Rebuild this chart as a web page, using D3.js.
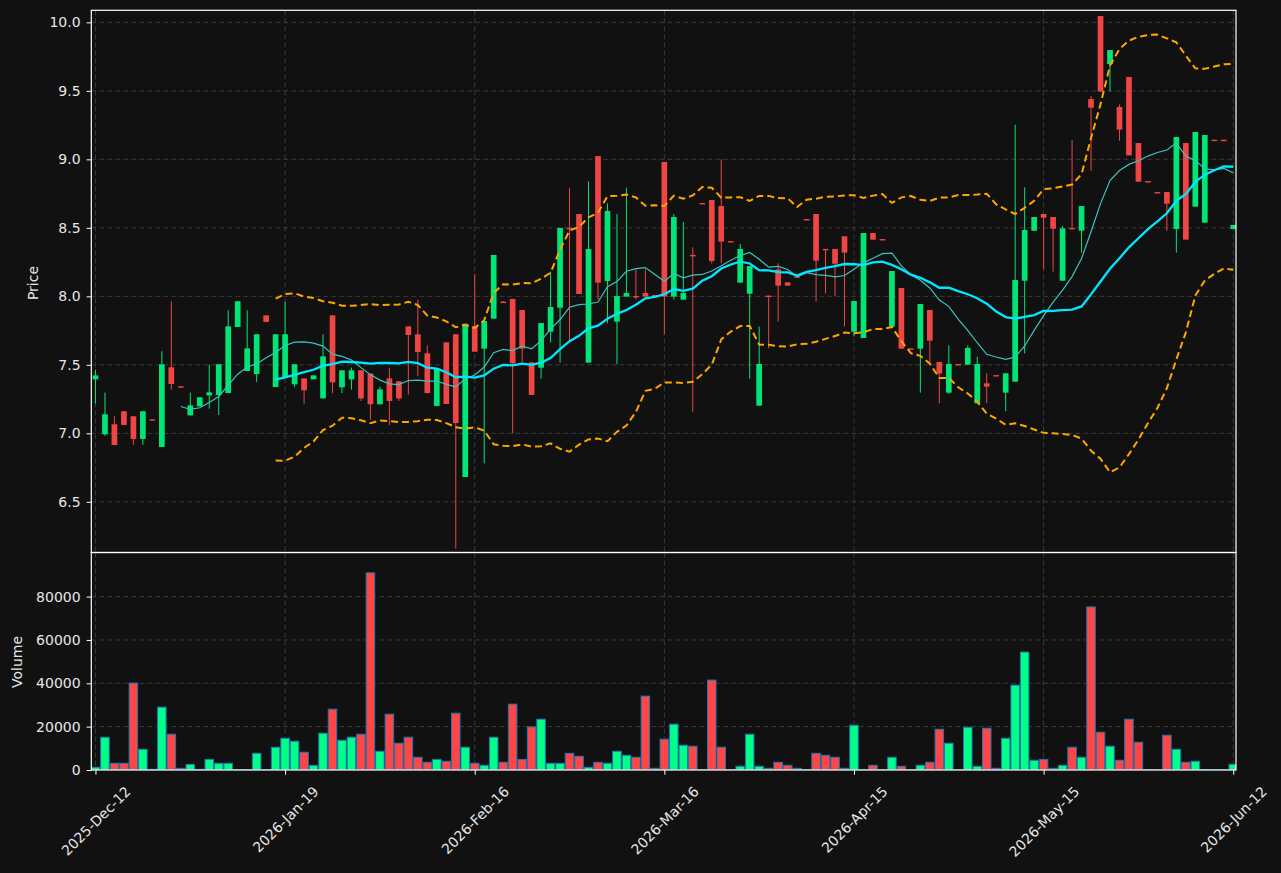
<!DOCTYPE html>
<html><head><meta charset="utf-8">
<script src="https://cdn.jsdelivr.net/npm/d3@7"></script>
<style>html,body{margin:0;padding:0;background:#111111;}svg{display:block;}</style>
</head><body>
<svg id="chart" width="1281" height="873"></svg>
<script>
// ---------- data ----------
const tickIndex  = [0, 20, 40, 60, 80, 100, 120];
const tickLabels = ["2025-Dec-12","2026-Jan-19","2026-Feb-16","2026-Mar-16","2026-Apr-15","2026-May-15","2026-Jun-12"];

const opens = [7.394,6.993,7.066,7.161,7.124,6.959,7.102,6.900,7.482,7.343,
  7.131,7.197,7.277,7.280,7.294,7.776,7.455,7.433,7.861,7.338,
  7.406,7.358,7.401,7.394,7.255,7.861,7.336,7.394,7.460,7.436,
  7.212,7.401,7.380,7.781,7.723,7.584,7.200,7.664,7.723,6.681,
  7.783,7.618,7.837,7.961,7.981,7.900,7.518,7.479,7.742,7.917,
  8.500,8.601,7.516,9.024,8.112,7.815,7.998,8.002,8.024,8.010,
  8.981,7.998,7.976,8.302,8.681,8.703,8.659,8.403,8.100,8.019,
  7.202,8.005,8.197,8.102,8.146,8.564,8.601,8.346,8.346,8.438,
  7.742,7.696,8.462,8.418,7.779,8.061,7.620,7.618,7.900,7.521,
  7.297,7.506,7.501,7.219,7.365,7.425,7.297,7.377,8.114,8.479,
  8.601,8.579,8.114,8.499,8.479,9.440,10.046,9.696,9.382,9.601,
  9.119,8.841,8.761,8.762,8.491,9.119,8.655,8.538,9.143,9.143,
  8.491];
const highs = [7.465,7.297,7.124,7.161,7.128,7.161,7.102,7.599,7.964,7.343,
  7.297,7.263,7.501,7.504,7.898,7.964,7.898,7.723,7.861,7.723,
  7.962,7.504,7.401,7.423,7.723,7.861,7.460,7.479,7.460,7.436,
  7.341,7.479,7.380,7.781,7.976,7.642,7.472,7.664,7.723,7.800,
  8.161,7.820,8.302,7.966,7.981,7.900,7.518,7.805,8.180,8.499,
  8.793,8.601,8.839,9.024,8.679,8.601,8.793,8.197,8.197,8.010,
  8.981,8.601,8.543,8.358,8.681,8.703,9.000,8.403,8.382,8.221,
  7.779,8.005,8.241,8.102,8.146,8.564,8.601,8.346,8.346,8.438,
  7.966,8.462,8.462,8.418,8.185,8.061,7.620,7.944,7.900,7.521,
  7.642,7.506,7.642,7.560,7.438,7.425,7.438,9.253,8.796,8.579,
  8.601,8.579,8.513,9.141,8.659,9.462,10.046,9.798,9.401,9.601,
  9.119,8.841,8.761,8.762,9.163,9.119,9.200,9.178,9.143,9.143,
  8.521];
const lows = [7.217,6.981,6.912,7.061,6.917,6.917,7.098,6.900,7.319,7.339,
  7.131,7.197,7.180,7.134,7.294,7.776,7.455,7.375,7.813,7.338,
  7.406,7.338,7.217,7.394,7.255,7.294,7.294,7.319,7.236,7.100,
  7.212,7.061,7.236,7.282,7.418,7.294,7.200,7.214,6.158,6.681,
  7.596,6.781,7.837,7.954,7.000,7.516,7.280,7.399,7.664,7.516,
  7.681,8.017,7.516,7.978,7.803,7.504,7.998,7.978,7.998,8.000,
  7.725,7.978,7.976,7.158,8.676,8.241,8.241,8.399,8.100,7.399,
  7.202,7.620,7.815,8.078,8.142,8.560,7.961,8.022,8.002,7.779,
  7.706,7.696,8.414,8.414,7.779,7.618,7.616,7.297,7.511,7.219,
  7.287,7.502,7.501,7.219,7.219,7.421,7.161,7.377,7.584,8.479,
  8.197,8.180,8.114,8.494,8.319,8.917,9.494,9.494,9.136,9.029,
  8.837,8.837,8.757,8.479,8.319,8.414,8.655,8.538,9.139,9.139,
  8.491];
const closes = [7.423,7.139,6.915,7.061,6.959,7.161,7.098,7.504,7.360,7.341,
  7.204,7.263,7.299,7.504,7.781,7.964,7.620,7.723,7.813,7.723,
  7.723,7.504,7.314,7.423,7.562,7.372,7.460,7.460,7.255,7.212,
  7.321,7.236,7.255,7.718,7.594,7.294,7.472,7.214,7.075,7.800,
  7.596,7.820,8.302,7.954,7.511,7.618,7.280,7.805,7.922,8.499,
  8.490,8.017,8.346,8.100,8.623,8.002,8.024,7.998,7.998,8.000,
  7.998,8.579,8.024,8.297,8.676,8.258,8.399,8.399,8.346,8.221,
  7.506,8.000,8.078,8.078,8.142,8.560,8.260,8.341,8.238,8.319,
  7.966,8.462,8.414,8.414,8.185,7.618,7.616,7.944,7.676,7.436,
  7.506,7.502,7.623,7.506,7.341,7.421,7.438,8.119,8.484,8.579,
  8.574,8.494,8.496,8.494,8.659,9.377,9.494,9.798,9.217,9.029,
  8.837,8.837,8.757,8.676,9.163,8.414,9.200,9.178,9.139,9.139,
  8.521];
const volumes = [1250,15100,3100,3100,40100,9570,300,29000,16500,780,
  2600,300,4900,3100,3100,200,200,7700,200,10500,
  14650,13270,8200,2170,16970,28070,13730,15120,16500,90960,
  8650,25760,12350,15120,5870,3560,4900,4020,26200,10500,
  3100,2170,15100,3560,30380,4900,19880,23440,3100,3100,
  7700,6330,1250,3560,3100,8650,6800,5870,34080,780,
  14200,21130,11420,10960,150,41480,10500,150,1710,16500,
  1710,780,3560,2170,780,150,7700,6800,5870,780,
  20650,150,2170,150,5870,1710,150,2170,3560,18800,
  12350,150,19730,1710,19260,780,14650,39160,54420,4480,
  4900,780,2170,10500,5870,75240,17430,10960,4480,23440,
  12810,150,150,16040,9570,3560,4020,150,150,150,
  2630];
const priceTicks  = [6.5, 7.0, 7.5, 8.0, 8.5, 9.0, 9.5, 10.0];
const volumeTicks = [0, 20000, 40000, 60000, 80000];

// ---------- layout ----------
const W = 1281, H = 873;
const L = 91.3, R = 1236;
const pTop = 10.3, pBot = 552.5, vTop = 552.5, vBot = 770;
const BG = "#111111";
const UP = "#00e676", DOWN = "#ef4545";
const VUP = "#00ff88", VDOWN = "#ff4646";
const TXT = "#e6e6e6";
const FONT = "DejaVu Sans, sans-serif";

const svg = d3.select("#chart");
svg.append("rect").attr("width", W).attr("height", H).attr("fill", BG);

const x = d3.scaleLinear().domain([-0.44, 120.29]).range([L, R]);
const yP = d3.scaleLinear().domain([6.13, 10.088]).range([pBot, pTop]);
const yV = d3.scaleLinear().domain([0, 100350]).range([vBot, vTop]);
const step = x(1) - x(0);

const n = closes.length;
const idx = d3.range(n);

// clip paths
const defs = svg.append("defs");
defs.append("clipPath").attr("id", "clipP").append("rect")
  .attr("x", L).attr("y", pTop).attr("width", R - L).attr("height", pBot - pTop);
defs.append("clipPath").attr("id", "clipV").append("rect")
  .attr("x", L).attr("y", vTop).attr("width", R - L).attr("height", vBot - vTop);

// ---------- grid ----------
const grid = svg.append("g").attr("stroke", "#3a3a3a").attr("stroke-width", 1).attr("stroke-dasharray", "5,3");
priceTicks.forEach(t => grid.append("line").attr("x1", L).attr("x2", R).attr("y1", yP(t)).attr("y2", yP(t)));
volumeTicks.filter(t => t > 0).forEach(t => grid.append("line").attr("x1", L).attr("x2", R).attr("y1", yV(t)).attr("y2", yV(t)));
tickIndex.forEach(t => {
  grid.append("line").attr("x1", x(t)).attr("x2", x(t)).attr("y1", pTop).attr("y2", pBot);
  grid.append("line").attr("x1", x(t)).attr("x2", x(t)).attr("y1", vTop).attr("y2", vBot);
});

// ---------- candles ----------
const cg = svg.append("g").attr("clip-path", "url(#clipP)");
const bodyW = step * 0.6;
idx.forEach(i => {
  const up = closes[i] >= opens[i];
  const col = up ? UP : DOWN;
  cg.append("line").attr("x1", x(i)).attr("x2", x(i))
    .attr("y1", yP(highs[i])).attr("y2", yP(lows[i]))
    .attr("stroke", col).attr("stroke-width", 1);
  const yTop = yP(Math.max(opens[i], closes[i]));
  const yBottom = yP(Math.min(opens[i], closes[i]));
  const h = Math.max(yBottom - yTop, 1.4);
  cg.append("rect").attr("x", x(i) - bodyW / 2).attr("y", yTop)
    .attr("width", bodyW).attr("height", h).attr("fill", col);
});

// ---------- indicators (derived from closes) ----------
function sma(arr, p) { return arr.map((_, i) => i < p - 1 ? null : d3.mean(arr.slice(i - p + 1, i + 1))); }
function pstd(arr, p) { return arr.map((_, i) => { if (i < p - 1) return null; const s = arr.slice(i - p + 1, i + 1); const m = d3.mean(s); return Math.sqrt(d3.mean(s, v => (v - m) * (v - m))); }); }
const ma10 = sma(closes, 10);
const ma20 = sma(closes, 20);
const sd20 = pstd(closes, 20);
const bbUp = ma20.map((m, i) => m == null ? null : m + 2 * sd20[i]);
const bbLo = ma20.map((m, i) => m == null ? null : m - 2 * sd20[i]);

const line = d3.line().defined(d => d[1] != null).x(d => x(d[0])).y(d => yP(d[1]));
const lg = svg.append("g").attr("clip-path", "url(#clipP)").attr("fill", "none");
lg.append("path").attr("d", line(ma10.map((v, i) => [i, v]))).attr("stroke", "#3cc4bc").attr("stroke-width", 1.2);
lg.append("path").attr("d", line(ma20.map((v, i) => [i, v]))).attr("stroke", "#00e8ff").attr("stroke-width", 2.3);
[bbUp, bbLo].forEach(s => lg.append("path").attr("d", line(s.map((v, i) => [i, v])))
  .attr("stroke", "#ffa500").attr("stroke-width", 2).attr("stroke-dasharray", "7,4"));

// ---------- volume ----------
const vg = svg.append("g").attr("clip-path", "url(#clipV)");
const barW = step * 0.9;
idx.forEach(i => {
  const up = closes[i] >= opens[i];
  vg.append("rect").attr("x", x(i) - barW / 2).attr("y", yV(volumes[i]))
    .attr("width", barW).attr("height", vBot - yV(volumes[i]))
    .attr("fill", up ? VUP : VDOWN).attr("stroke", "#1f77b4").attr("stroke-width", 1);
});

// ---------- frames ----------
const fr = svg.append("g").attr("fill", "none").attr("stroke", "#ffffff").attr("stroke-width", 1.2);
fr.append("rect").attr("x", L).attr("y", pTop).attr("width", R - L).attr("height", pBot - pTop);
fr.append("rect").attr("x", L).attr("y", vTop).attr("width", R - L).attr("height", vBot - vTop);

// ---------- axes ----------
function styleAxis(g) {
  g.select(".domain").remove();
  g.selectAll(".tick line").attr("stroke", "#ffffff").attr("stroke-width", 1);
  g.selectAll(".tick text").attr("fill", TXT).attr("font-family", FONT).attr("font-size", 14);
}
svg.append("g").attr("transform", `translate(${L},0)`)
  .call(d3.axisLeft(yP).tickValues(priceTicks).tickFormat(d3.format(".1f")).tickSize(4.7).tickPadding(6))
  .call(styleAxis);
svg.append("g").attr("transform", `translate(${L},0)`)
  .call(d3.axisLeft(yV).tickValues(volumeTicks).tickFormat(d3.format("d")).tickSize(4.7).tickPadding(6))
  .call(styleAxis);
const xa = svg.append("g").attr("transform", `translate(0,${vBot})`)
  .call(d3.axisBottom(x).tickValues(tickIndex).tickFormat((d, k) => tickLabels[k]).tickSize(4.7).tickPadding(6))
  .call(styleAxis);
xa.selectAll(".tick text").each(function () {
  const t = d3.select(this);
  const len = this.getComputedTextLength();
  const ax = 0.354 * len;
  t.attr("text-anchor", "end").attr("dy", "0.35em").attr("y", 0)
   .attr("transform", `translate(${ax},19) rotate(-45)`);
});

// axis titles
svg.append("text").attr("transform", `translate(38,283) rotate(-90)`).attr("text-anchor", "middle")
  .attr("fill", TXT).attr("font-family", FONT).attr("font-size", 14).text("Price");
svg.append("text").attr("transform", `translate(22,662) rotate(-90)`).attr("text-anchor", "middle")
  .attr("fill", TXT).attr("font-family", FONT).attr("font-size", 14).text("Volume");
</script>
</body></html>
